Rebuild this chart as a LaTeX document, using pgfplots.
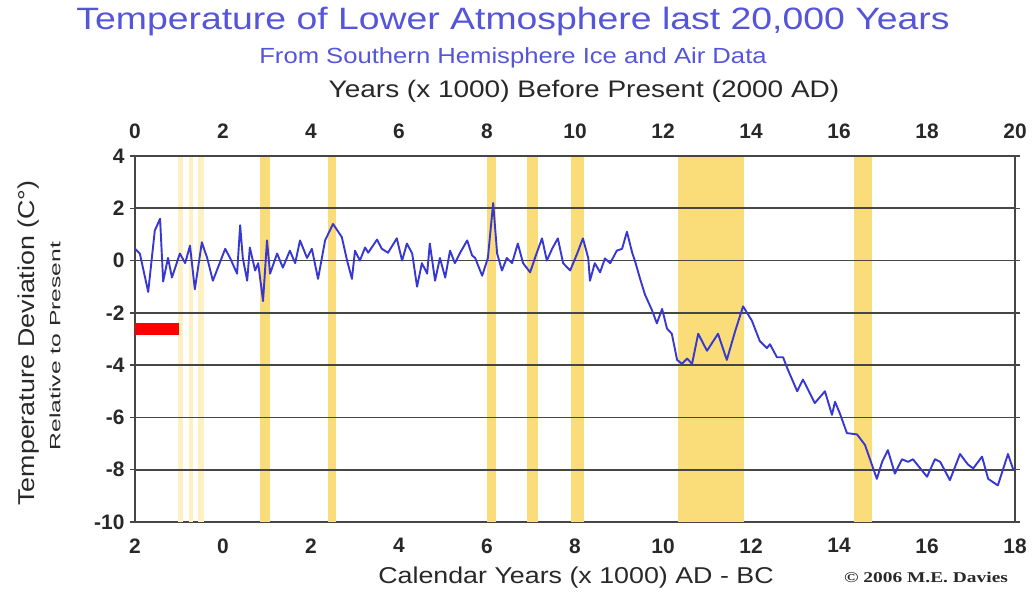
\documentclass[border=0pt]{standalone}
\usepackage{pgfplots}
\pgfplotsset{compat=1.18}
\usepackage{fontspec}
\setmainfont{Liberation Sans}
\newfontfamily\wideA[FakeStretch=1.21]{Liberation Sans}
\newfontfamily\wideB[FakeStretch=1.17]{Liberation Sans}
\newfontfamily\wideC[FakeStretch=1.65]{Liberation Sans}
\newfontfamily\serifbf[FakeStretch=1.3]{Liberation Serif}
\definecolor{band}{RGB}{250,220,120}
\definecolor{paleband}{RGB}{253,240,195}
\definecolor{titleblue}{RGB}{85,85,220}
\definecolor{lineblue}{RGB}{55,55,210}
\definecolor{gridgray}{RGB}{70,70,70}
\definecolor{labgray}{RGB}{40,40,40}

\pgfplotstableread{
bp t
0 0.45
0.11 0.27
0.3 -1.2
0.45 1.15
0.57 1.6
0.64 -0.8
0.75 0.1
0.84 -0.65
1.02 0.27
1.14 -0.1
1.25 0.57
1.36 -1.1
1.52 0.7
1.64 0.1
1.77 -0.77
2.05 0.45
2.16 0.1
2.32 -0.5
2.39 1.35
2.45 0.1
2.55 -0.77
2.61 0.5
2.73 -0.38
2.8 -0.1
2.91 -1.55
3.0 0.77
3.07 -0.5
3.23 0.27
3.36 -0.27
3.52 0.38
3.64 -0.1
3.75 0.77
3.91 0.1
4.02 0.45
4.16 -0.7
4.32 0.77
4.5 1.4
4.70 0.9
4.82 0
4.93 -0.7
5.0 0.38
5.11 0
5.23 0.5
5.30 0.3
5.5 0.8
5.61 0.45
5.75 0.3
5.95 0.85
6.07 0
6.18 0.65
6.3 0.27
6.41 -1.0
6.52 -0.1
6.64 -0.5
6.7 0.65
6.82 -0.77
6.93 0.1
7.05 -0.65
7.16 0.38
7.27 -0.1
7.39 0.3
7.55 0.77
7.66 0.2
7.73 0.1
7.89 -0.58
8.02 0.1
8.14 2.2
8.23 0.27
8.34 -0.38
8.45 0.1
8.57 -0.1
8.7 0.65
8.82 -0.1
8.98 -0.45
9.09 0.1
9.25 0.85
9.36 0
9.48 0.45
9.61 0.85
9.73 -0.1
9.89 -0.38
10.05 0.27
10.18 0.85
10.3 0.1
10.34 -0.77
10.45 -0.1
10.57 -0.45
10.68 0.08
10.8 -0.1
10.95 0.38
11.07 0.45
11.18 1.1
11.3 0.3
11.36 0
11.48 -0.7
11.59 -1.3
11.75 -1.9
11.86 -2.4
11.98 -1.85
12.09 -2.6
12.2 -2.8
12.32 -3.8
12.43 -3.95
12.55 -3.75
12.66 -3.95
12.8 -2.8
13.0 -3.45
13.25 -2.8
13.45 -3.8
13.64 -2.7
13.82 -1.75
14.02 -2.3
14.2 -3.08
14.36 -3.35
14.43 -3.2
14.59 -3.7
14.73 -3.7
14.82 -4.1
15.05 -5.0
15.18 -4.55
15.45 -5.45
15.68 -5.0
15.84 -5.9
15.91 -5.4
16.02 -5.85
16.18 -6.6
16.41 -6.65
16.59 -7.05
16.86 -8.35
16.98 -7.7
17.11 -7.25
17.27 -8.15
17.43 -7.6
17.57 -7.7
17.68 -7.6
18.0 -8.27
18.18 -7.6
18.3 -7.7
18.52 -8.4
18.75 -7.4
18.93 -7.8
19.05 -7.95
19.25 -7.5
19.39 -8.35
19.61 -8.6
19.84 -7.4
19.95 -7.95
20 -8.0
}\tempdata

\begin{document}
\begin{tikzpicture}[x=1bp,y=1bp]
\begin{axis}[at={(0,0)},anchor=south west,
  scale only axis, width=880bp, height=366bp,
  xmin=0,xmax=20,ymin=-10,ymax=4,
  xtick={0,2,...,20},
  xticklabels={2,0,2,4,6,8,10,12,14,16,18},
  ytick={-10,-8,...,4},
  yticklabels={-10,-8,-6,-4,-2,0,2,4},
  tick label style={font=\fontsize{21}{21}\selectfont\bfseries, text=labgray},
  xticklabel style={yshift=-8bp},
  yticklabel style={xshift=-2bp},
  major tick length=5bp, tick align=outside,
  xtick style={draw=none},
  ytick style={gridgray, line width=1.5bp},
  axis line style={gridgray, line width=1.5bp},
]
% bands
\addplot[fill=paleband, draw=none] coordinates {(0.98,-10)(1.08,-10)(1.08,4)(0.98,4)} -- cycle;
\addplot[fill=paleband, draw=none] coordinates {(1.22,-10)(1.32,-10)(1.32,4)(1.22,4)} -- cycle;
\addplot[fill=paleband, draw=none] coordinates {(1.44,-10)(1.56,-10)(1.56,4)(1.44,4)} -- cycle;
\addplot[fill=band, draw=none] coordinates {(2.85,-10)(3.07,-10)(3.07,4)(2.85,4)} -- cycle;
\addplot[fill=band, draw=none] coordinates {(4.38,-10)(4.57,-10)(4.57,4)(4.38,4)} -- cycle;
\addplot[fill=band, draw=none] coordinates {(8.0,-10)(8.2,-10)(8.2,4)(8.0,4)} -- cycle;
\addplot[fill=band, draw=none] coordinates {(8.9,-10)(9.15,-10)(9.15,4)(8.9,4)} -- cycle;
\addplot[fill=band, draw=none] coordinates {(9.9,-10)(10.2,-10)(10.2,4)(9.9,4)} -- cycle;
\addplot[fill=band, draw=none] coordinates {(12.35,-10)(13.85,-10)(13.85,4)(12.35,4)} -- cycle;
\addplot[fill=band, draw=none] coordinates {(16.35,-10)(16.75,-10)(16.75,4)(16.35,4)} -- cycle;
% grid lines
\addplot[gridgray, line width=1.8bp] coordinates {(0,2)(20,2)};
\addplot[gridgray, line width=1.8bp] coordinates {(0,0)(20,0)};
\addplot[gridgray, line width=1.8bp] coordinates {(0,-2)(20,-2)};
\addplot[gridgray, line width=1.8bp] coordinates {(0,-4)(20,-4)};
\addplot[gridgray, line width=1.8bp] coordinates {(0,-6)(20,-6)};
\addplot[gridgray, line width=1.8bp] coordinates {(0,-8)(20,-8)};
% red bar
\addplot[fill=red, draw=none] coordinates {(0,-2.4)(1.0,-2.4)(1.0,-2.85)(0,-2.85)} -- cycle;
% temperature
\addplot[lineblue, line width=1.9bp, line join=round] table[x=bp,y=t] {\tempdata};
\end{axis}
\begin{axis}[at={(0,0)},anchor=south west,
  scale only axis, width=880bp, height=366bp,
  xmin=0,xmax=20,ymin=-10,ymax=4,
  axis x line*=top, axis y line=none,
  xtick={0,2,...,20},
  xticklabels={0,2,4,6,8,10,12,14,16,18,20},
  tick label style={font=\fontsize{21}{21}\selectfont\bfseries, text=labgray},
  xticklabel style={yshift=14bp},
  xtick style={draw=none},
  axis line style={gridgray, line width=1.5bp},
]
\end{axis}
\node[text=titleblue, font=\wideA\fontsize{31}{31}\selectfont] at (378,500) {Temperature of Lower Atmosphere last 20,000 Years};
\node[text=titleblue, font=\wideB\fontsize{22}{22}\selectfont] at (378,464) {From Southern Hemisphere Ice and Air Data};
\node[text=labgray, font=\wideB\fontsize{24}{24}\selectfont] at (449,431) {Years (x 1000) Before Present (2000 AD)};
\node[text=labgray, font=\wideB\fontsize{23}{23}\selectfont] at (441,-56) {Calendar Years (x 1000) AD - BC};
\node[text=labgray, font=\serifbf\fontsize{15}{15}\selectfont\bfseries] at (791,-55) {© 2006 M.E. Davies};
\node[text=labgray, rotate=90, font=\wideB\fontsize{23}{23}\selectfont] at (-106,179) {Temperature Deviation (C°)};
\node[text=labgray, rotate=90, font=\wideC\fontsize{15}{15}\selectfont] at (-80,176) {Relative to Present};
\pgfresetboundingbox
\useasboundingbox (-135,-75) rectangle (899,522);
\end{tikzpicture}
\end{document}
